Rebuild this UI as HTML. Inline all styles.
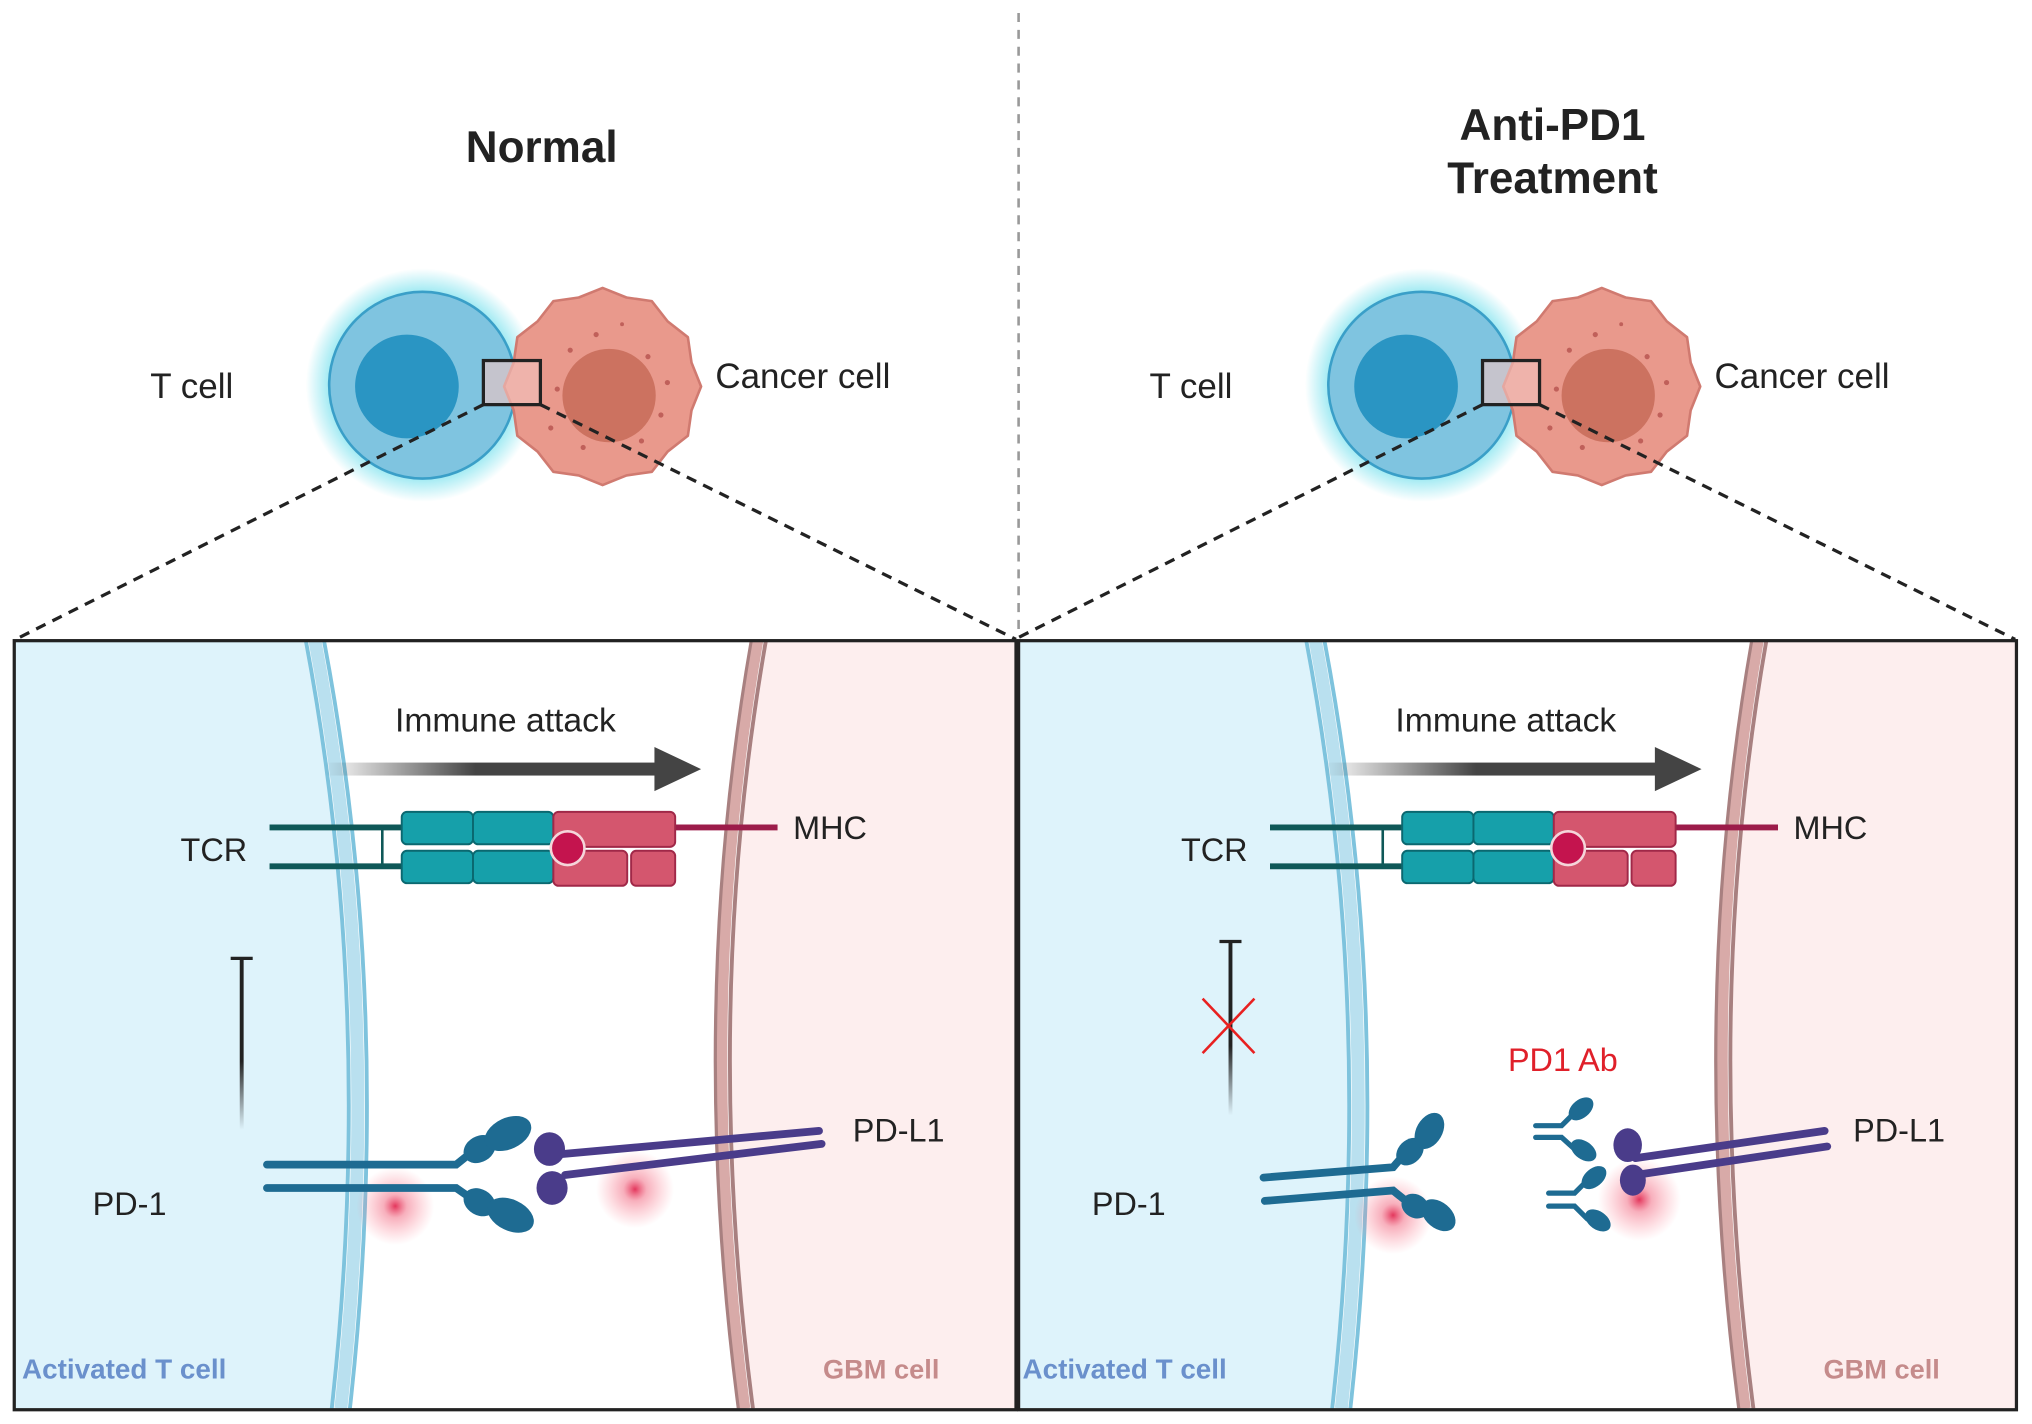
<!DOCTYPE html>
<html><head><meta charset="utf-8"><style>
html,body{margin:0;padding:0;background:#fff;}
svg{display:block;}
text{font-family:"Liberation Sans",sans-serif;}
</style></head><body>
<svg width="2032" height="1424" viewBox="0 0 1568 1098" preserveAspectRatio="none" xmlns="http://www.w3.org/2000/svg">
<defs>
<radialGradient id="glow" cx="0.5" cy="0.5" r="0.5">
<stop offset="0.7" stop-color="#4fd8e8" stop-opacity="0.8"/>
<stop offset="1" stop-color="#4fd8e8" stop-opacity="0"/>
</radialGradient>
<radialGradient id="red" cx="0.5" cy="0.5" r="0.5">
<stop offset="0" stop-color="#e0204a" stop-opacity="0.9"/>
<stop offset="0.3" stop-color="#f0607a" stop-opacity="0.5"/>
<stop offset="1" stop-color="#ff8090" stop-opacity="0"/>
</radialGradient>
<linearGradient id="arr" x1="0" x2="1" y1="0" y2="0">
<stop offset="0" stop-color="#444" stop-opacity="0"/>
<stop offset="0.45" stop-color="#444" stop-opacity="1"/>
<stop offset="1" stop-color="#444"/>
</linearGradient>
<linearGradient id="tfade" x1="0" x2="0" y1="0" y2="1">
<stop offset="0" stop-color="#222"/>
<stop offset="0.6" stop-color="#222"/>
<stop offset="1" stop-color="#222" stop-opacity="0"/>
</linearGradient>
<clipPath id="clipL"><rect x="11" y="494" width="772" height="592"/></clipPath>
<clipPath id="clipR"><rect x="787" y="494" width="768" height="592"/></clipPath>
<g id="cells">
<circle cx="326" cy="297" r="90" fill="url(#glow)"/>
<circle cx="326" cy="297" r="72" fill="#7fc4e0" stroke="#3a9fc8" stroke-width="2"/>
<circle cx="314" cy="298" r="40" fill="#2a95c3"/>
<polygon points="541,298 533.6,316.4 530.8,336 515.2,348.2 503,363.8 483.4,366.6 465,374 446.6,366.6 427,363.8 414.8,348.2 399.2,336 396.4,316.4 389,298 396.4,279.6 399.2,260 414.8,247.8 427,232.2 446.6,229.4 465,222 483.4,229.4 503,232.2 515.2,247.8 530.8,260 533.6,279.6" fill="#e9998c" stroke="#d07a70" stroke-width="2" stroke-linejoin="round"/>
<circle cx="470" cy="305" r="36" fill="#cc7260"/>
<g fill="#c0605a"><circle cx="440" cy="270" r="2"/><circle cx="460" cy="258" r="2"/><circle cx="500" cy="275" r="2"/><circle cx="430" cy="300" r="2"/><circle cx="515" cy="295" r="2"/><circle cx="450" cy="345" r="2"/><circle cx="495" cy="340" r="2"/><circle cx="425" cy="330" r="2"/><circle cx="480" cy="250" r="1.5"/><circle cx="510" cy="320" r="2"/></g>
<rect x="373" y="278" width="44" height="34" fill="#f3c4c0" fill-opacity="0.6" stroke="#222" stroke-width="2.5"/>
<text x="148" y="307" font-size="27" fill="#222" text-anchor="middle">T cell</text>
<text x="552" y="299" font-size="27" fill="#222">Cancer cell</text>
<line x1="373" y1="312" x2="12" y2="493" stroke="#222" stroke-width="2.5" stroke-dasharray="8,6"/>
<line x1="417" y1="312" x2="784" y2="493" stroke="#222" stroke-width="2.5" stroke-dasharray="8,6"/>
</g>
<g id="panel">
<path d="M11,494 L236,494 Q290,780 256,1086 L11,1086 Z" fill="#def3fb"/>
<path d="M236,494 Q290,780 256,1086" fill="none" stroke="#7ec3dd" stroke-width="3"/>
<path d="M250,494 Q304,780 270,1086" fill="none" stroke="#7ec3dd" stroke-width="3"/>
<path d="M243,494 Q297,780 263,1086" fill="none" stroke="#b9e0ef" stroke-width="10"/>
<path d="M590,494 Q540,780 580,1086 L784,1086 L784,494 Z" fill="#fdeeee"/>
<path d="M580,494 Q530,780 570,1086" fill="none" stroke="#a88080" stroke-width="3"/>
<path d="M585,494 Q535,780 575,1086" fill="none" stroke="#d8aaa8" stroke-width="8"/>
<path d="M591,494 Q541,780 581,1086" fill="none" stroke="#a88080" stroke-width="3"/>
<text x="390" y="564" font-size="26" fill="#222" text-anchor="middle">Immune attack</text>
<rect x="250" y="588" width="260" height="10" fill="url(#arr)"/>
<polygon points="505,576 541,593 505,610" fill="#444"/>
<line x1="208" y1="638" x2="312" y2="638" stroke="#0f5858" stroke-width="4.5"/>
<line x1="208" y1="668" x2="312" y2="668" stroke="#0f5858" stroke-width="4.5"/>
<line x1="295" y1="638" x2="295" y2="668" stroke="#0f5858" stroke-width="2"/>
<g fill="#16a0aa" stroke="#0b6870" stroke-width="1.5">
<rect x="310" y="626" width="55" height="25" rx="4"/><rect x="365" y="626" width="62" height="25" rx="4"/>
<rect x="310" y="656" width="55" height="25" rx="4"/><rect x="365" y="656" width="62" height="25" rx="4"/>
</g>
<line x1="520" y1="638" x2="600" y2="638" stroke="#9c1c4a" stroke-width="4.5"/>
<g fill="#d4566e" stroke="#a02848" stroke-width="1.5">
<rect x="427" y="626" width="94" height="27" rx="4"/><rect x="427" y="656" width="57" height="27" rx="4"/><rect x="487" y="656" width="34" height="27" rx="4"/>
</g>
<circle cx="438" cy="654" r="13" fill="#c4144e" stroke="#f5d5da" stroke-width="2"/>
<text x="165" y="664" font-size="25" fill="#222" text-anchor="middle">TCR</text>
<text x="612" y="647" font-size="25" fill="#222">MHC</text>
<text x="17" y="1063" font-size="21.5" font-weight="bold" fill="#6a90cc">Activated T cell</text>
<text x="680" y="1063" font-size="21" font-weight="bold" fill="#c58b8b" text-anchor="middle">GBM cell</text>
</g>
</defs>

<line x1="786" y1="10" x2="786" y2="490" stroke="#999" stroke-width="2" stroke-dasharray="7,6"/>
<text x="418" y="125" font-size="34" font-weight="bold" fill="#222" text-anchor="middle">Normal</text>
<text x="1198" y="108" font-size="34" font-weight="bold" fill="#222" text-anchor="middle">Anti-PD1</text>
<text x="1198" y="149" font-size="34" font-weight="bold" fill="#222" text-anchor="middle">Treatment</text>

<use href="#cells"/>
<use href="#cells" transform="translate(771,0)"/>

<g clip-path="url(#clipL)"><use href="#panel"/></g>
<g clip-path="url(#clipR)"><use href="#panel" transform="translate(772,0)"/></g>

<line x1="178" y1="739" x2="195" y2="739" stroke="#222" stroke-width="2.5"/>
<rect x="185" y="739" width="3" height="132" fill="url(#tfade)"/>
<circle cx="305" cy="930" r="30" fill="url(#red)"/>
<circle cx="490" cy="917" r="30" fill="url(#red)"/>
<g stroke="#1e6b92" stroke-width="6" fill="none" stroke-linecap="round">
<path d="M206,898 L352,898 L372,882"/>
<path d="M206,916 L352,916 L372,930"/>
</g>
<g fill="#1e6b92">
<ellipse cx="370" cy="886" rx="13" ry="10" transform="rotate(-30 370 886)"/>
<ellipse cx="392" cy="874" rx="19" ry="12" transform="rotate(-25 392 874)"/>
<ellipse cx="370" cy="927" rx="13" ry="10" transform="rotate(30 370 927)"/>
<ellipse cx="394" cy="937" rx="19" ry="12" transform="rotate(25 394 937)"/>
</g>
<g stroke="#4a3c8a" stroke-width="6" fill="none" stroke-linecap="round">
<path d="M432,890 L632,872"/><path d="M436,906 L634,882"/>
</g>
<g fill="#4a3c8a">
<ellipse cx="424" cy="886" rx="12" ry="13"/>
<ellipse cx="426" cy="916" rx="12" ry="13"/>
</g>
<text x="100" y="937" font-size="25" fill="#222" text-anchor="middle">PD-1</text>
<text x="658" y="880" font-size="25" fill="#222">PD-L1</text>

<line x1="941" y1="726" x2="958" y2="726" stroke="#222" stroke-width="2.5"/>
<rect x="948" y="726" width="3" height="134" fill="url(#tfade)"/>
<line x1="928" y1="770" x2="968" y2="812" stroke="#e82020" stroke-width="2"/>
<line x1="968" y1="770" x2="928" y2="812" stroke="#e82020" stroke-width="2"/>
<text x="1206" y="826" font-size="25" fill="#e0202a" text-anchor="middle">PD1 Ab</text>
<circle cx="1075" cy="937" r="30" fill="url(#red)"/>
<circle cx="1265" cy="925" r="32" fill="url(#red)"/>
<g stroke="#1e6b92" stroke-width="6" fill="none" stroke-linecap="round">
<path d="M975,908 L1075,900 L1088,885"/>
<path d="M976,926 L1075,918 L1090,930"/>
</g>
<g fill="#1e6b92">
<ellipse cx="1088" cy="888" rx="12" ry="9" transform="rotate(-45 1088 888)"/>
<ellipse cx="1103" cy="872" rx="15" ry="10" transform="rotate(-60 1103 872)"/>
<ellipse cx="1092" cy="930" rx="11" ry="9" transform="rotate(30 1092 930)"/>
<ellipse cx="1110" cy="937" rx="15" ry="10" transform="rotate(40 1110 937)"/>
</g>
<g stroke="#1e6b92" stroke-width="4" fill="none" stroke-linecap="round">
<path d="M1185,868 L1205,868 L1215,858"/>
<path d="M1185,877 L1205,877 L1215,886"/>
<path d="M1195,920 L1215,920 L1225,910"/>
<path d="M1195,930 L1215,930 L1225,940"/>
</g>
<g fill="#1e6b92">
<ellipse cx="1220" cy="855" rx="11" ry="7" transform="rotate(-40 1220 855)"/>
<ellipse cx="1222" cy="887" rx="11" ry="7" transform="rotate(35 1222 887)"/>
<ellipse cx="1230" cy="908" rx="11" ry="7" transform="rotate(-40 1230 908)"/>
<ellipse cx="1233" cy="941" rx="11" ry="7" transform="rotate(35 1233 941)"/>
</g>
<g stroke="#4a3c8a" stroke-width="6" fill="none" stroke-linecap="round">
<path d="M1262,893 L1408,872"/><path d="M1262,906 L1410,884"/>
</g>
<g fill="#4a3c8a">
<ellipse cx="1256" cy="883" rx="11" ry="13"/>
<ellipse cx="1260" cy="910" rx="10" ry="12"/>
</g>
<text x="871" y="937" font-size="25" fill="#222" text-anchor="middle">PD-1</text>
<text x="1430" y="880" font-size="25" fill="#222">PD-L1</text>

<rect x="11" y="494" width="773" height="593" fill="none" stroke="#222" stroke-width="2.5"/>
<rect x="786" y="494" width="770" height="593" fill="none" stroke="#222" stroke-width="2.5"/>
</svg>
</body></html>
